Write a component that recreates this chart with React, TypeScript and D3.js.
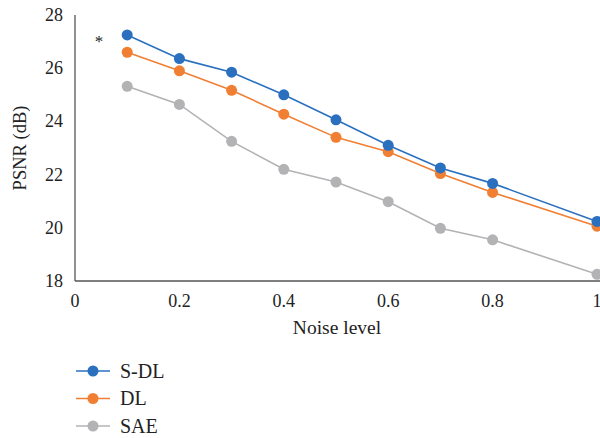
import React, { useRef, useEffect } from 'react';
import * as d3 from 'd3';

const noiseLevels = [0.1, 0.2, 0.3, 0.4, 0.5, 0.6, 0.7, 0.8, 1.0];
const sdlValues = [27.25, 26.36, 25.85, 25.0, 24.06, 23.1, 22.25, 21.67, 20.24];
const dlValues = [26.6, 25.9, 25.17, 24.27, 23.4, 22.86, 22.04, 21.33, 20.06];
const saeValues = [25.32, 24.64, 23.25, 22.2, 21.72, 20.98, 19.98, 19.55, 18.25];
const xTicks = [0, 0.2, 0.4, 0.6, 0.8, 1];
const yTicks = [18, 20, 22, 24, 26, 28];

const seriesNames = ['S-DL', 'DL', 'SAE'];
const seriesColors = ['#2a70bf', '#f07f33', '#b3b3b6'];

const width = 600;
const height = 438;
const font = '"Liberation Serif", "DejaVu Serif", serif';

const App: React.FC = () => {
  const svgRef = useRef<SVGSVGElement>(null);

  useEffect(() => {
    if (!svgRef.current) return;
    const svg = d3.select(svgRef.current);
    svg.selectAll('*').remove();

    const x = d3.scaleLinear().domain([0, 1]).range([75, 597]);
    const y = d3.scaleLinear().domain([18, 28]).range([281, 15]);

    // Axes lines
    svg.append('line')
      .attr('x1', x(0)).attr('x2', x(0))
      .attr('y1', y(28)).attr('y2', y(18))
      .attr('stroke', '#555').attr('stroke-width', 1.3);
    svg.append('line')
      .attr('x1', x(0)).attr('x2', width)
      .attr('y1', y(18)).attr('y2', y(18))
      .attr('stroke', '#555').attr('stroke-width', 1.3);

    // Y tick labels
    svg.selectAll('.ytick')
      .data(yTicks)
      .enter()
      .append('text')
      .attr('x', 63)
      .attr('y', d => y(d) + 6)
      .attr('text-anchor', 'end')
      .attr('font-family', font)
      .attr('font-size', '18px')
      .attr('fill', '#222')
      .text(d => d);

    // X tick labels
    svg.selectAll('.xtick')
      .data(xTicks)
      .enter()
      .append('text')
      .attr('x', d => x(d))
      .attr('y', 307)
      .attr('text-anchor', 'middle')
      .attr('font-family', font)
      .attr('font-size', '18px')
      .attr('fill', '#222')
      .text(d => d);

    // Axis titles
    svg.append('text')
      .attr('transform', 'rotate(-90)')
      .attr('x', -148)
      .attr('y', 26)
      .attr('text-anchor', 'middle')
      .attr('font-family', font)
      .attr('font-size', '18.5px')
      .attr('fill', '#222')
      .text('PSNR (dB)');

    svg.append('text')
      .attr('x', 337)
      .attr('y', 334)
      .attr('text-anchor', 'middle')
      .attr('font-family', font)
      .attr('font-size', '19.5px')
      .attr('fill', '#222')
      .text('Noise level');

    svg.append('text')
      .attr('x', 99)
      .attr('y', 47)
      .attr('text-anchor', 'middle')
      .attr('font-family', font)
      .attr('font-size', '17px')
      .attr('fill', '#222')
      .text('*');

    const allSeries = [sdlValues, dlValues, saeValues];
    const line = d3.line<number>()
      .x((_, i) => x(noiseLevels[i]))
      .y(d => y(d));

    // draw back-to-front: SAE, DL, S-DL
    [2, 1, 0].forEach(si => {
      const vals = allSeries[si];
      svg.append('path')
        .datum(vals)
        .attr('d', line)
        .attr('fill', 'none')
        .attr('stroke', seriesColors[si])
        .attr('stroke-width', 1.6);
      svg.selectAll(`.pt${si}`)
        .data(vals)
        .enter()
        .append('circle')
        .attr('cx', (_, i) => x(noiseLevels[i]))
        .attr('cy', d => y(d))
        .attr('r', 5.5)
        .attr('fill', seriesColors[si]);
    });

    // Legend
    const legend = svg.append('g');
    seriesNames.forEach((name, i) => {
      const ly = 371 + i * 27.5;
      legend.append('line')
        .attr('x1', 76).attr('x2', 110)
        .attr('y1', ly).attr('y2', ly)
        .attr('stroke', seriesColors[i]).attr('stroke-width', 1.6);
      legend.append('circle')
        .attr('cx', 93).attr('cy', ly).attr('r', 5.5)
        .attr('fill', seriesColors[i]);
      legend.append('text')
        .attr('x', 120)
        .attr('y', ly + 6.5)
        .attr('font-family', font)
        .attr('font-size', '20px')
        .attr('fill', '#222')
        .text(name);
    });
  }, []);

  return (
    <svg
      ref={svgRef}
      width={width}
      height={height}
      style={{ position: 'absolute', left: 0, top: 0, background: '#fff' }}
    />
  );
};

export default App;
